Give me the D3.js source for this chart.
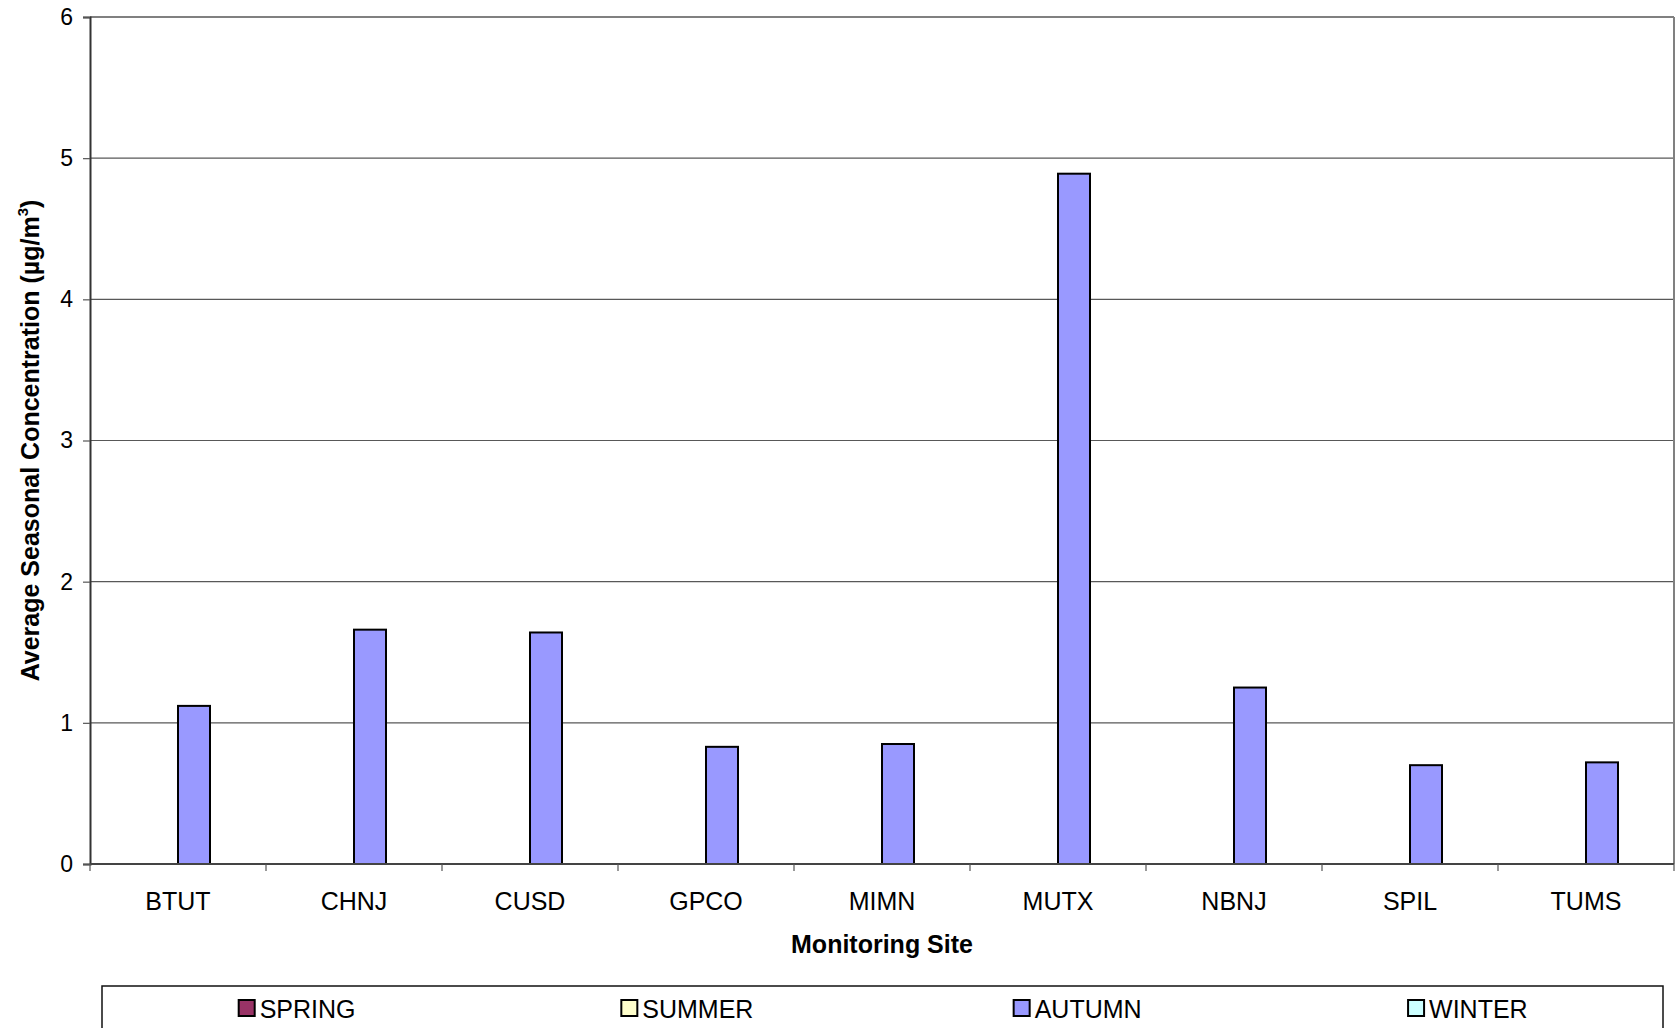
<!DOCTYPE html>
<html>
<head>
<meta charset="utf-8">
<script src="https://cdn.jsdelivr.net/npm/d3@7/dist/d3.min.js"></script>
<style>
  html, body { margin: 0; padding: 0; background: #fff; }
  svg { display: block; font-family: "Liberation Sans", Arial, sans-serif; }
</style>
</head>
<body>
<svg id="chart" width="1676" height="1028"></svg>
<script>
// Monitoring sites along the x axis
const sites = ["BTUT", "CHNJ", "CUSD", "GPCO", "MIMN", "MUTX", "NBNJ", "SPIL", "TUMS"];

// Seasons, in plotting order
const seasons = ["SPRING", "SUMMER", "AUTUMN", "WINTER"];

// Average seasonal concentrations (µg/m3); null = no samples that season
const spring = [null, null, null, null, null, null, null, null, null];
const summer = [null, null, null, null, null, null, null, null, null];
const autumn = [1.12, 1.66, 1.64, 0.83, 0.85, 4.89, 1.25, 0.70, 0.72];
const winter = [null, null, null, null, null, null, null, null, null];

const yTicks = [0, 1, 2, 3, 4, 5, 6];

const seriesValues = { SPRING: spring, SUMMER: summer, AUTUMN: autumn, WINTER: winter };
const seasonColors = { SPRING: "#993366", SUMMER: "#FFFFCC", AUTUMN: "#9999FF", WINTER: "#CCFFFF" };

const svg = d3.select("#chart");

const plot = { left: 90, right: 1674, top: 17, bottom: 864 };

const x = d3.scaleBand().domain(sites).range([plot.left, plot.right]).padding(0);
const y = d3.scaleLinear().domain([0, 6]).range([plot.bottom, plot.top]);

// Bars in a cluster take 4/5.5 of each category (150% gap width)
const cw = x.bandwidth();
const xs = d3.scaleBand().domain(seasons)
  .range([cw * 0.75 / 5.5, cw * 4.75 / 5.5]).padding(0);

// Horizontal gridlines (top one closes the plot frame)
svg.append("g")
  .selectAll("line")
  .data(yTicks.filter(d => d > 0))
  .join("line")
  .attr("x1", plot.left).attr("x2", plot.right)
  .attr("y1", d => y(d)).attr("y2", d => y(d))
  .attr("stroke", d => d === 6 ? "#808080" : "#585858")
  .attr("stroke-width", d => d === 6 ? 2 : 1.2);

// Right edge of plot frame
svg.append("line")
  .attr("x1", plot.right).attr("x2", plot.right)
  .attr("y1", plot.top).attr("y2", plot.bottom)
  .attr("stroke", "#808080").attr("stroke-width", 2);

// Bars
const rows = [];
sites.forEach((s, i) => {
  seasons.forEach(season => {
    const v = seriesValues[season][i];
    if (v !== null && v !== undefined) rows.push({ site: s, season, value: v });
  });
});

svg.append("g")
  .selectAll("rect")
  .data(rows)
  .join("rect")
  .attr("x", d => x(d.site) + xs(d.season))
  .attr("y", d => y(d.value))
  .attr("width", xs.bandwidth())
  .attr("height", d => y(0) - y(d.value))
  .attr("fill", d => seasonColors[d.season])
  .attr("stroke", "#000")
  .attr("stroke-width", 2);

// Y axis
const yAxis = svg.append("g").attr("transform", `translate(${plot.left},0)`)
  .call(d3.axisLeft(y).tickValues(yTicks).tickSize(7).tickPadding(10).tickFormat(d3.format("d")));
yAxis.select(".domain").attr("stroke", "#333").attr("stroke-width", 2);
yAxis.selectAll(".tick line").attr("stroke", "#555").attr("stroke-width", 1.2);
yAxis.selectAll(".tick text")
  .attr("font-size", 23).attr("fill", "#000")
  .attr("font-family", "Liberation Sans, Arial, sans-serif");

// X axis: ticks at category boundaries
const xAxis = svg.append("g").attr("transform", `translate(0,${plot.bottom})`);
xAxis.append("line")
  .attr("x1", plot.left).attr("x2", plot.right)
  .attr("stroke", "#444").attr("stroke-width", 2);
xAxis.selectAll("line.tk")
  .data(sites.map(s => x(s)).concat([plot.right]))
  .join("line").attr("class", "tk")
  .attr("x1", d => d).attr("x2", d => d)
  .attr("y1", 0).attr("y2", 7)
  .attr("stroke", "#555").attr("stroke-width", 1.2);
xAxis.selectAll("text")
  .data(sites)
  .join("text")
  .attr("x", d => x(d) + cw / 2)
  .attr("y", 46)
  .attr("text-anchor", "middle")
  .attr("font-size", 25)
  .attr("fill", "#000")
  .text(d => d);

// Axis titles
svg.append("text")
  .attr("x", (plot.left + plot.right) / 2)
  .attr("y", 953)
  .attr("text-anchor", "middle")
  .attr("font-size", 25)
  .attr("font-weight", "bold")
  .text("Monitoring Site");

const yTitle = svg.append("text")
  .attr("transform", `translate(39,${(plot.top + plot.bottom) / 2}) rotate(-90)`)
  .attr("text-anchor", "middle")
  .attr("font-size", 25)
  .attr("font-weight", "bold");
yTitle.append("tspan").text("Average Seasonal Concentration (µg/m");
yTitle.append("tspan").attr("font-size", 15).attr("dy", -11).text("3");
yTitle.append("tspan").attr("dy", 11).text(")");

// Legend
const legend = { left: 102, right: 1663, top: 986 };
svg.append("rect")
  .attr("x", legend.left).attr("y", legend.top)
  .attr("width", legend.right - legend.left).attr("height", 80)
  .attr("fill", "#fff").attr("stroke", "#111").attr("stroke-width", 1.5);

const slot = d3.scaleBand().domain(seasons).range([legend.left, legend.right]);
const items = svg.append("g").selectAll("g")
  .data(seasons)
  .join("g");
items.each(function (d) {
  const g = d3.select(this);
  const t = g.append("text")
    .attr("font-size", 25)
    .attr("y", 1018)
    .attr("fill", "#000")
    .text(d);
  const tw = t.node().getComputedTextLength();
  const sw = 16, gap = 5;
  const start = slot(d) + (slot.bandwidth() - (sw + gap + tw)) / 2;
  g.append("rect")
    .attr("x", start).attr("y", 1000)
    .attr("width", sw).attr("height", sw)
    .attr("fill", seasonColors[d])
    .attr("stroke", "#000").attr("stroke-width", 2);
  t.attr("x", start + sw + gap);
});
</script>
</body>
</html>
